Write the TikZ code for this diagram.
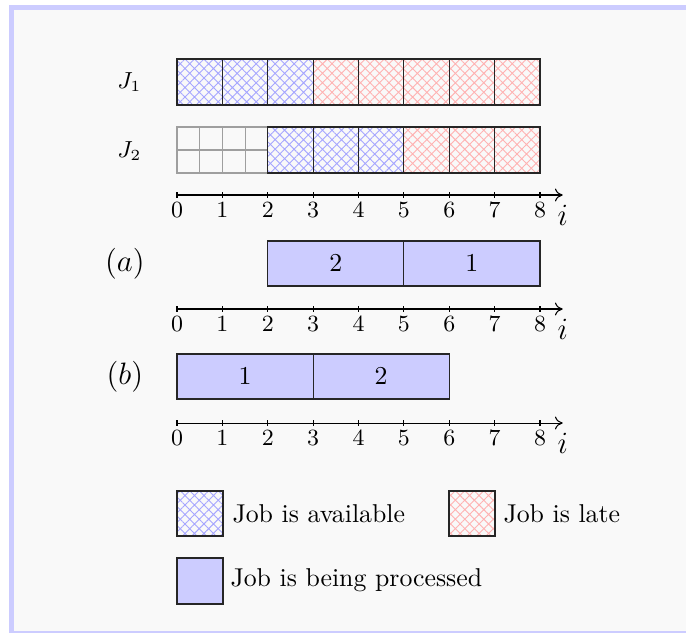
\documentclass[tikz,border=0pt]{standalone}
\usetikzlibrary{patterns.meta,arrows.meta}
\definecolor{framec}{RGB}{204,204,255}
\definecolor{bgc}{RGB}{249,249,249}
\tikzset{
  avail/.style={pattern={Hatch[angle=45,distance=2.6pt,line width=0.35pt]}, pattern color=blue!35, draw=black!85, line width=0.45pt},
  late/.style={pattern={Hatch[angle=45,distance=2.6pt,line width=0.35pt]}, pattern color=red!30, draw=black!85, line width=0.45pt},
  proc/.style={fill=blue!20, draw=black!85, line width=0.45pt},
  ticklab/.style={font=\small, inner sep=0pt},
  axlab/.style={font=\large, inner sep=0pt},
  rowlab/.style={font=\small, inner sep=0pt},
  boxlab/.style={font=\normalsize, inner sep=0pt},
  leglab/.style={anchor=west, inner sep=0pt},
  axisline/.style={-{To[length=3pt,width=5pt]}, line width=0.4pt},
}
\begin{document}
\begin{tikzpicture}[x=0.3876pt,y=-0.3876pt]
\useasboundingbox (0,0) rectangle (686,633);
\fill[white] (0,0) rectangle (686,633);
\fill[bgc] (14,10) rectangle (686,631);
\fill[framec] (9,5) rectangle (14,633);
\fill[framec] (9,5) rectangle (686,10);
\fill[framec] (9,631) rectangle (686,633);
\begin{scope}[shift={(177,0)}]
\begin{scope}[x=17.587pt]
  % row labels
  \node[rowlab] (J1) at (-1.05,82) {$J_1$};
  \node[rowlab] (J2) at (-1.05,151) {$J_2$};
  % J2 gray grid
  \foreach \i in {0,0.5,1,1.5} \draw[gray!75, line width=0.4pt] (\i,127) rectangle (\i+0.5,150) (\i,150) rectangle (\i+0.5,173);
  % J1 row
  \foreach \i in {0,1,2} \draw[avail] (\i,59) rectangle (\i+1,105);
  \foreach \i in {3,...,7} \draw[late] (\i,59) rectangle (\i+1,105);
  % J2 row
  \foreach \i in {2,3,4} \draw[avail] (\i,127) rectangle (\i+1,173);
  \foreach \i in {5,6,7} \draw[late] (\i,127) rectangle (\i+1,173);
  % axes
  \foreach \ay/\nm in {195/A, 309/B, 423/C}{
    \coordinate (\nm s) at (0,\ay);
    \coordinate (\nm e) at (8.5,\ay);
    \draw[axisline] (\nm s) -- (\nm e);
    \foreach \i in {0,...,8}{
      \draw[line width=0.4pt] (\i,\ay-3) -- (\i,\ay+3);
      \node[ticklab] (\nm t\i) at (\i,\ay+15) {$\i$};
    }
    \node[axlab] (\nm i) at (8.5,\ay+20) {$i$};
  }
  % (a)
  \node[font=\large, inner sep=0pt] (la) at (-1.15,264) {$(a)$};
  \draw[proc] (2,241) rectangle (5,286);
  \draw[proc] (5,241) rectangle (8,286);
  \node[boxlab] (a2) at (3.5,263.5) {$2$};
  \node[boxlab] (a1) at (6.5,263.5) {$1$};
  % (b)
  \node[font=\large, inner sep=0pt] (lb) at (-1.15,377) {$(b)$};
  \draw[proc] (0,354) rectangle (3,399);
  \draw[proc] (3,354) rectangle (6,399);
  \node[boxlab] (b1) at (1.5,376.5) {$1$};
  \node[boxlab] (b2) at (4.5,376.5) {$2$};
\end{scope}
\end{scope}
% legend
\draw[avail] (177,491) rectangle (223,536);
\node[leglab] (lg1) at (232,514) {Job is available};
\draw[late] (449,491) rectangle (495,536);
\node[leglab] (lg2) at (503,514) {Job is late};
\draw[proc] (177,558) rectangle (223,604);
\node[leglab] (lg3) at (230,580) {Job is being processed};
\end{tikzpicture}
\end{document}
